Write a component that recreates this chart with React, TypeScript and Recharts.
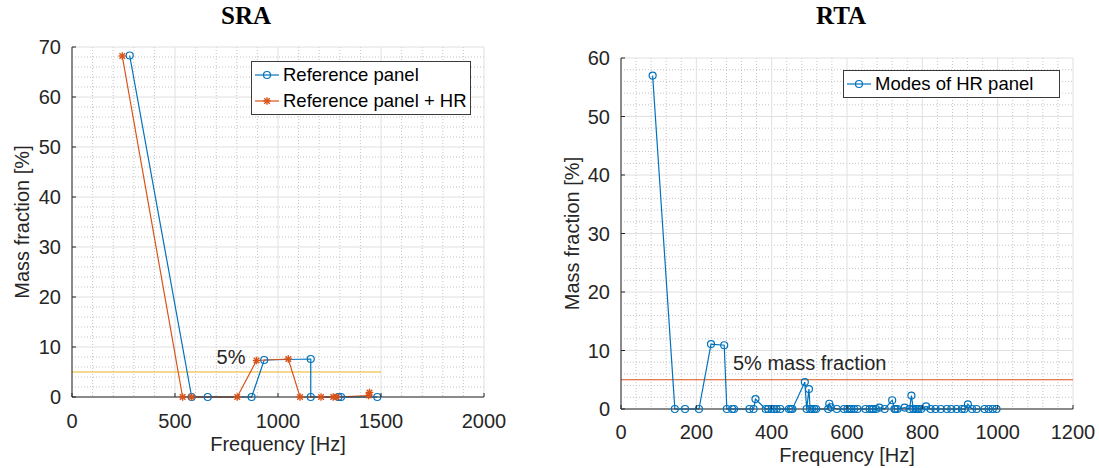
import { LineChart, Line, XAxis, YAxis, CartesianGrid, ReferenceLine, ReferenceDot, Legend } from "recharts"

// SRA: reference panel vs reference panel + HR
const refFreq = [280, 581, 659, 872, 933, 1159, 1159, 1293, 1306, 1482]
const refMass = [68.3, 0, 0, 0, 7.4, 7.6, 0, 0, 0, 0]

const hrFreq = [244, 537, 581, 802, 896, 1050, 1107, 1209, 1268, 1285, 1440, 1444]
const hrMass = [68.2, 0, 0, 0, 7.3, 7.6, 0, 0, 0, 0, 0.3, 0.9]

// RTA: modes of HR panel
const modeFreq = [
  84, 143, 170, 207, 239, 274, 281, 295, 300, 341, 352, 357, 384, 391, 400, 406, 413, 423, 446, 451, 455,
  488, 493, 499, 502, 507, 513, 518, 550, 553, 557, 573, 592, 601, 607, 612, 619, 628, 649, 660, 666, 670,
  677, 686, 700, 720, 726, 729, 734, 753, 766, 771, 776, 782, 786, 790, 797, 810, 822, 835, 849, 865, 877,
  891, 905, 912, 921, 932, 944, 965, 976, 987, 997,
]
const modeMass = [
  57.0, 0, 0, 0, 11.1, 10.9, 0, 0, 0, 0, 0, 1.7, 0, 0, 0, 0, 0, 0, 0, 0, 0,
  4.6, 0, 3.4, 0, 0, 0, 0, 0, 0.9, 0.3, 0, 0, 0, 0, 0, 0, 0, 0, 0, 0, 0,
  0, 0.25, 0, 1.5, 0, 0, 0, 0.25, 0, 2.3, 0, 0, 0, 0, 0, 0.45, 0, 0, 0, 0, 0,
  0, 0, 0, 0.8, 0, 0, 0, 0, 0, 0,
]

// axes
const sraXTicks = [0, 500, 1000, 1500, 2000]
const sraYTicks = [0, 10, 20, 30, 40, 50, 60, 70]
const sraXMinor = [100, 200, 300, 400, 600, 700, 800, 900, 1100, 1200, 1300, 1400, 1600, 1700, 1800, 1900]
const sraYMinor = [2, 4, 6, 8, 12, 14, 16, 18, 22, 24, 26, 28, 32, 34, 36, 38, 42, 44, 46, 48, 52, 54, 56, 58, 62, 64, 66, 68]

const rtaXTicks = [0, 200, 400, 600, 800, 1000, 1200]
const rtaYTicks = [0, 10, 20, 30, 40, 50, 60]
const rtaXMinor = [40, 80, 120, 160, 240, 280, 320, 360, 440, 480, 520, 560, 640, 680, 720, 760, 840, 880, 920, 960, 1040, 1080, 1120, 1160]
const rtaYMinor = [2, 4, 6, 8, 12, 14, 16, 18, 22, 24, 26, 28, 32, 34, 36, 38, 42, 44, 46, 48, 52, 54, 56, 58]

const threshold = 5

const blue = "#0072BD"
const orange = "#D95319"
const yellow = "#EDB120"
const ink = "#262626"
const font = "'Liberation Sans', Arial, Helvetica, sans-serif"

const sraRef = refFreq.map((f, i) => ({ f, m: refMass[i] }))
const sraHr = hrFreq.map((f, i) => ({ f, m: hrMass[i] }))
const rtaModes = modeFreq.map((f, i) => ({ f, m: modeMass[i] }))

const markers: Record<string, "circle" | "star"> = {
  "Reference panel": "circle",
  "Reference panel + HR": "star",
  "Modes of HR panel": "circle",
}

function Marker({ cx, cy, kind, color }: { cx: number; cy: number; kind: "circle" | "star"; color: string }) {
  if (kind === "circle") {
    return <circle cx={cx} cy={cy} r={3.5} fill="none" stroke={color} strokeWidth={1.2} />
  }
  const s = 3.8
  const d = 2.8
  return (
    <g stroke={color} strokeWidth={1.4}>
      <line x1={cx - s} x2={cx + s} y1={cy} y2={cy} />
      <line x1={cx} x2={cx} y1={cy - s} y2={cy + s} />
      <line x1={cx - d} x2={cx + d} y1={cy - d} y2={cy + d} />
      <line x1={cx - d} x2={cx + d} y1={cy + d} y2={cy - d} />
    </g>
  )
}

const dotOf = (kind: "circle" | "star", color: string) => (p: any) => (
  <Marker key={`m-${p.index}`} cx={p.cx} cy={p.cy} kind={kind} color={color} />
)

function XTick({ x, y, payload, gap }: any) {
  return (
    <g>
      <line x1={x} x2={x} y1={y} y2={y - 4} stroke={ink} />
      <text x={x} y={y + gap} textAnchor="middle" fill={ink} fontSize={20} fontFamily={font}>
        {payload.value}
      </text>
    </g>
  )
}

function YTick({ x, y, payload }: any) {
  return (
    <g>
      <line x1={x} x2={x + 4} y1={y} y2={y} stroke={ink} />
      <text x={x - 11} y={y + 7} textAnchor="end" fill={ink} fontSize={20} fontFamily={font}>
        {payload.value}
      </text>
    </g>
  )
}

function BoxLegend({ payload }: any) {
  return (
    <div
      style={{
        border: "1.5px solid #3a3a3a",
        background: "#fff",
        padding: "0 4px 0 2px",
        fontFamily: font,
        fontSize: 18.5,
        color: "#000",
        boxSizing: "border-box",
      }}
    >
      {(payload || []).map((e: any) => (
        <div key={e.value} style={{ display: "flex", alignItems: "center", height: 26 }}>
          <svg width={28} height={14} style={{ flex: "none" }}>
            <line x1={1} x2={25} y1={7} y2={7} stroke={e.color} strokeWidth={1.2} />
            <Marker cx={13} cy={7} kind={markers[e.value] || "circle"} color={e.color} />
          </svg>
          <span style={{ whiteSpace: "nowrap", marginLeft: 1 }}>{e.value}</span>
        </div>
      ))}
    </div>
  )
}

const xLabel = (gap: number) => ({ viewBox }: any) => (
  <text x={viewBox.x + viewBox.width / 2} y={viewBox.y + gap} textAnchor="middle" fill={ink} fontSize={20} fontFamily={font}>
    Frequency [Hz]
  </text>
)

const yLabel = (cx: number) => ({ viewBox }: any) => {
  const x = viewBox.x + cx
  const y = viewBox.y + viewBox.height / 2
  return (
    <text
      x={x}
      y={y}
      dy={7}
      transform={`rotate(-90, ${x}, ${y})`}
      textAnchor="middle"
      fill={ink}
      fontSize={20}
      fontFamily={font}
    >
      Mass fraction [%]
    </text>
  )
}

const titleStyle = {
  position: "absolute" as const,
  top: 2,
  fontFamily: "'Liberation Serif', 'Times New Roman', serif",
  fontWeight: 700,
  fontSize: 25,
  color: "#000",
  transform: "translateX(-50%)",
}

export default function App() {
  return (
    <div style={{ position: "absolute", left: 0, top: 0, width: 1099, height: 468, background: "#fff", overflow: "hidden" }}>
      <div style={{ ...titleStyle, left: 246 }}>SRA</div>
      <div style={{ ...titleStyle, left: 841 }}>RTA</div>

      <div style={{ position: "absolute", left: 0, top: 0 }}>
        <LineChart width={560} height={468} margin={{ top: 47, right: 76, bottom: 16, left: 0 }}>
          <CartesianGrid verticalValues={sraXMinor} horizontalValues={sraYMinor} stroke="#c4c4c4" strokeDasharray="1 2" />
          <CartesianGrid verticalValues={sraXTicks} horizontalValues={sraYTicks} stroke="#e0e0e0" />
          <XAxis
            type="number"
            dataKey="f"
            domain={[0, 2000]}
            ticks={sraXTicks}
            interval={0}
            height={55}
            tickSize={0}
            tickMargin={0}
            tickLine={false}
            axisLine={{ stroke: ink }}
            tick={<XTick gap={31} />}
            label={{ content: xLabel(54) }}
          />
          <YAxis
            type="number"
            domain={[0, 70]}
            ticks={sraYTicks}
            interval={0}
            width={72}
            tickSize={0}
            tickMargin={0}
            tickLine={false}
            axisLine={{ stroke: ink }}
            tick={<YTick />}
            label={{ content: yLabel(22) }}
          />
          <ReferenceLine
            segment={[
              { x: 0, y: threshold },
              { x: 1500, y: threshold },
            ]}
            stroke={yellow}
            strokeWidth={1.2}
          />
          <ReferenceDot
            x={772}
            y={8}
            r={0}
            stroke="none"
            fill="none"
            label={{ value: "5%", position: "center", fill: ink, fontSize: 20, fontFamily: font }}
          />
          <Line
            data={sraRef}
            dataKey="m"
            name="Reference panel"
            type="linear"
            stroke={blue}
            strokeWidth={1.2}
            dot={dotOf("circle", blue)}
            activeDot={false}
            isAnimationActive={false}
          />
          <Line
            data={sraHr}
            dataKey="m"
            name="Reference panel + HR"
            type="linear"
            stroke={orange}
            strokeWidth={1.2}
            dot={dotOf("star", orange)}
            activeDot={false}
            isAnimationActive={false}
          />
          <Legend
            layout="vertical"
            align="center"
            verticalAlign="middle"
            width={220}
            wrapperStyle={{ left: 251, top: 61, width: 220 }}
            content={<BoxLegend />}
          />
        </LineChart>
      </div>

      <div style={{ position: "absolute", left: 540, top: 0 }}>
        <LineChart width={559} height={468} margin={{ top: 58, right: 26, bottom: 4, left: 0 }}>
          <CartesianGrid verticalValues={rtaXMinor} horizontalValues={rtaYMinor} stroke="#c4c4c4" strokeDasharray="1 2" />
          <CartesianGrid verticalValues={rtaXTicks} horizontalValues={rtaYTicks} stroke="#e0e0e0" />
          <XAxis
            type="number"
            dataKey="f"
            domain={[0, 1200]}
            ticks={rtaXTicks}
            interval={0}
            height={55}
            tickSize={0}
            tickMargin={0}
            tickLine={false}
            axisLine={{ stroke: ink }}
            tick={<XTick gap={30} />}
            label={{ content: xLabel(53) }}
          />
          <YAxis
            type="number"
            domain={[0, 60]}
            ticks={rtaYTicks}
            interval={0}
            width={81}
            tickSize={0}
            tickMargin={0}
            tickLine={false}
            axisLine={{ stroke: ink }}
            tick={<YTick />}
            label={{ content: yLabel(32) }}
          />
          <ReferenceLine y={threshold} stroke={orange} strokeWidth={1.2} />
          <ReferenceDot
            x={501}
            y={7.8}
            r={0}
            stroke="none"
            fill="none"
            label={{ value: "5% mass fraction", position: "center", fill: ink, fontSize: 20, fontFamily: font }}
          />
          <Line
            data={rtaModes}
            dataKey="m"
            name="Modes of HR panel"
            type="linear"
            stroke={blue}
            strokeWidth={1.2}
            dot={dotOf("circle", blue)}
            activeDot={false}
            isAnimationActive={false}
          />
          <Legend
            layout="vertical"
            align="center"
            verticalAlign="middle"
            width={217}
            wrapperStyle={{ left: 303, top: 70, width: 217 }}
            content={<BoxLegend />}
          />
        </LineChart>
      </div>
    </div>
  )
}
